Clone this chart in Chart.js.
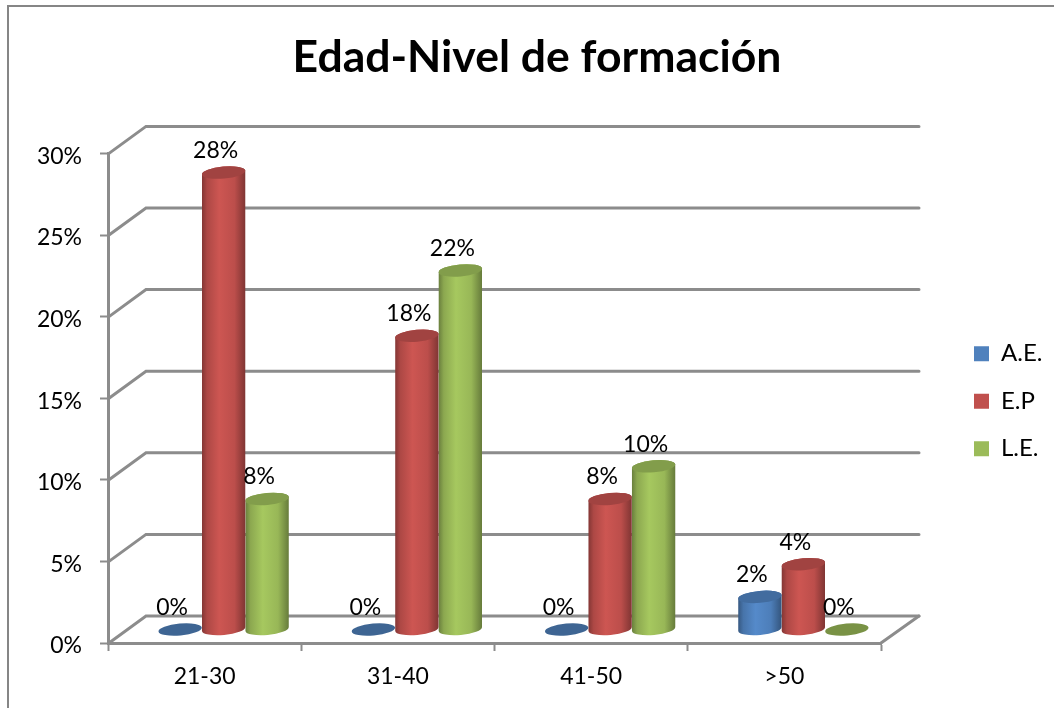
<!DOCTYPE html>
<html>
<head>
<meta charset="utf-8">
<title>Edad-Nivel de formación</title>
<script src="https://cdn.jsdelivr.net/npm/chart.js@4/dist/chart.umd.min.js"></script>
<style>
    html, body { margin: 0; padding: 0; background: #fff; overflow: hidden; }
    canvas { display: block; }
    /* Frame of the pasted chart, only its top and left edges are in the picture */
    #frame { position: absolute; left: 7px; top: 5px; right: 0; bottom: 0; border-top: 2px solid #868686; border-left: 2px solid #868686; pointer-events: none; }
</style>
</head>
<body>
<canvas id="edadChart" width="1054" height="708"></canvas>
<div id="frame"></div>
<script>
// Chart data
const categories = ['21-30', '31-40', '41-50', '>50'];
const seriesNames = ['A.E.', 'E.P', 'L.E.'];
const aeValues = [0, 0, 0, 2];
const epValues = [28, 18, 8, 4];
const leValues = [8, 22, 10, 0];
const yTicks = [0, 5, 10, 15, 20, 25, 30];

// Colors
const seriesColors = ['#4F81BD', '#C0504D', '#9BBB59'];
const wallColor = '#8C8C8C';

// Depth of the fake 3D box, in pixels
const DEPTH_X = 38;
const DEPTH_Y = -27;
const CAP_RY = 6;
const CAP_TILT = -0.09;

const FONT = 'Lato, Carlito, "Open Sans", sans-serif';

// Scale a hex color
function shade(hex, f) {
    const n = parseInt(hex.slice(1), 16);
    const c = [n >> 16, (n >> 8) & 255, n & 255].map(v => Math.min(255, Math.round(v * f)));
    return `rgb(${c[0]}, ${c[1]}, ${c[2]})`;
}

// Bar element drawn as a cylinder standing halfway into the box
class CylinderElement extends Chart.BarElement {
    draw(ctx) {
        const { x, y, base, width } = this.getProps(['x', 'y', 'base', 'width']);
        const color = this.options.backgroundColor;
        const cx = x + DEPTH_X / 2;
        const top = y + DEPTH_Y / 2;
        const bottom = base + DEPTH_Y / 2;
        const rx = width / 2;

        ctx.save();
        if (bottom - top > 1) {
            const grad = ctx.createLinearGradient(cx - rx, 0, cx + rx, 0);
            grad.addColorStop(0, shade(color, 0.68));
            grad.addColorStop(0.12, shade(color, 0.9));
            grad.addColorStop(0.4, shade(color, 1.07));
            grad.addColorStop(0.75, shade(color, 0.98));
            grad.addColorStop(1, shade(color, 0.66));
            ctx.beginPath();
            ctx.ellipse(cx, bottom, rx, CAP_RY, CAP_TILT, 0, Math.PI, false);
            ctx.ellipse(cx, top, rx, CAP_RY, CAP_TILT, Math.PI, 0, false);
            ctx.closePath();
            ctx.fillStyle = grad;
            ctx.fill();
            ctx.fillStyle = shade(color, 0.84);
        } else {
            // Zero values only leave a flat disc on the floor
            ctx.fillStyle = shade(color, 0.78);
        }
        ctx.beginPath();
        ctx.ellipse(cx, top, rx, CAP_RY, CAP_TILT, 0, Math.PI * 2);
        ctx.fill();
        ctx.restore();
    }
}
CylinderElement.id = 'cylinder';
CylinderElement.defaults = Chart.BarElement.defaults;
CylinderElement.defaultRoutes = Chart.BarElement.defaultRoutes;

class CylinderController extends Chart.BarController {}
CylinderController.id = 'cylinder';
CylinderController.defaults = { ...Chart.BarController.defaults, dataElementType: 'cylinder' };
CylinderController.overrides = Chart.BarController.overrides;

Chart.register(CylinderElement, CylinderController);

// Back wall, side wall and floor lines, taken from the y scale ticks
const boxWalls = {
    id: 'boxWalls',
    beforeDatasetsDraw(chart) {
        const { ctx, scales: { x, y }, chartArea } = chart;
        ctx.save();
        ctx.strokeStyle = wallColor;
        ctx.lineWidth = 3;
        ctx.lineCap = 'round';
        yTicks.forEach(v => {
            const py = y.getPixelForValue(v);
            ctx.beginPath();
            ctx.moveTo(chartArea.left + 1, py);
            ctx.lineTo(chartArea.left + DEPTH_X, py + DEPTH_Y);
            ctx.lineTo(chartArea.right + DEPTH_X, py + DEPTH_Y);
            ctx.stroke();
        });
        const floor = y.getPixelForValue(0);
        ctx.beginPath();
        ctx.moveTo(x.right, floor);
        ctx.lineTo(x.right + DEPTH_X, floor + DEPTH_Y);
        ctx.stroke();
        ctx.restore();
    }
};

// Value labels above each cylinder
const valueLabels = {
    id: 'valueLabels',
    afterDatasetsDraw(chart) {
        const { ctx } = chart;
        ctx.save();
        ctx.fillStyle = '#000';
        ctx.font = `23px ${FONT}`;
        ctx.textAlign = 'center';
        ctx.textBaseline = 'middle';
        chart.data.datasets.forEach((dataset, i) => {
            chart.getDatasetMeta(i).data.forEach((el, j) => {
                ctx.fillText(dataset.data[j] + '%', el.x + DEPTH_X / 2 - 8, el.y + DEPTH_Y / 2 - 22);
            });
        });
        ctx.restore();
    }
};

// Legend sits far to the right of the plot, with white space between them
const legendSpot = {
    id: 'legendSpot',
    beforeLayout(chart) {
        const legend = chart.legend;
        if (!legend.wideFit) {
            const fit = legend.fit;
            legend.fit = function () {
                fit.call(this);
                this.width = 173;
            };
            legend.wideFit = true;
        }
    },
    afterLayout(chart) {
        chart.legend.left = 974 - chart.options.plugins.legend.labels.padding;
        chart.legend.top += 3;
        chart.legend.bottom += 3;
    }
};

new Chart(document.getElementById('edadChart'), {
    type: 'cylinder',
    data: {
        labels: categories,
        datasets: [
            { label: seriesNames[0], data: aeValues, backgroundColor: seriesColors[0] },
            { label: seriesNames[1], data: epValues, backgroundColor: seriesColors[1] },
            { label: seriesNames[2], data: leValues, backgroundColor: seriesColors[2] }
        ]
    },
    options: {
        responsive: false,
        animation: false,
        categoryPercentage: 0.675,
        barPercentage: 1,
        layout: { padding: { left: 20 } },
        plugins: {
            title: {
                display: true,
                text: 'Edad-Nivel de formación',
                color: '#000',
                font: { family: FONT, size: 44.5, weight: 'bold', lineHeight: 1.2 },
                padding: { top: 31, bottom: 69 }
            },
            legend: {
                position: 'right',
                fullSize: false,
                labels: {
                    boxWidth: 15,
                    boxHeight: 15,
                    padding: 23.5,
                    color: '#000',
                    font: { family: FONT, size: 24 }
                }
            },
            tooltip: { enabled: false }
        },
        scales: {
            x: {
                afterFit(scale) { scale.height = 65; },
                grid: { drawOnChartArea: false, drawTicks: true, tickLength: 8, tickColor: wallColor, tickWidth: 2 },
                border: { color: wallColor, width: 3 },
                ticks: { color: '#000', padding: 12, font: { family: FONT, size: 23 } }
            },
            y: {
                min: 0,
                max: 30,
                afterFit(scale) { scale.width = 88; },
                afterBuildTicks(scale) { scale.ticks = yTicks.map(value => ({ value })); },
                grid: { drawOnChartArea: false, drawTicks: true, tickLength: 8, tickColor: wallColor, tickWidth: 2 },
                border: { color: wallColor, width: 3 },
                ticks: {
                    color: '#000',
                    padding: 18,
                    labelOffset: 3,
                    font: { family: FONT, size: 23 },
                    callback: value => value + '%'
                }
            }
        }
    },
    plugins: [boxWalls, valueLabels, legendSpot]
});
</script>
</body>
</html>
